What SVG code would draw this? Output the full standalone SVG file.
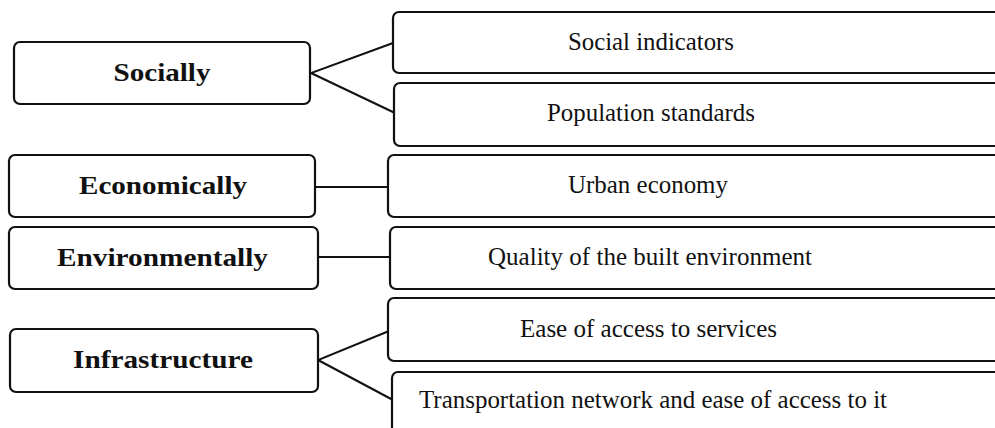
<svg xmlns="http://www.w3.org/2000/svg" width="995" height="428" viewBox="0 0 995 428">
<style>
.box{fill:#fff;stroke:#111;stroke-width:2.2}
.c{fill:none;stroke:#111;stroke-width:2}
text{font-family:'Liberation Serif','Times New Roman',serif;fill:#111;text-anchor:middle}
.l{font-weight:bold;font-size:25px}
.r{font-size:25px}
</style>
<rect width="995" height="428" fill="#fff"/>
<g id="connectors">
<polyline class="c" points="393,43 311,73 395,113"/>
<line class="c" x1="315" y1="187" x2="389" y2="187"/>
<line class="c" x1="318" y1="257" x2="391" y2="257"/>
<polyline class="c" points="389,331 318,360 393,400"/>
</g>
<g id="socially"><rect class="box" x="14" y="42" width="296" height="62" rx="6"/><text class="l" x="162" y="81" textLength="97" lengthAdjust="spacingAndGlyphs">Socially</text></g>
<g id="economically"><rect class="box" x="9" y="155" width="306" height="62" rx="6"/><text class="l" x="163" y="194" textLength="168" lengthAdjust="spacingAndGlyphs">Economically</text></g>
<g id="environmentally"><rect class="box" x="9" y="227" width="309" height="62" rx="6"/><text class="l" x="162.5" y="266" textLength="211" lengthAdjust="spacingAndGlyphs">Environmentally</text></g>
<g id="infrastructure"><rect class="box" x="10" y="329" width="308" height="63" rx="6"/><text class="l" x="163" y="368" textLength="180" lengthAdjust="spacingAndGlyphs">Infrastructure</text></g>
<g id="social-indicators"><rect class="box" x="393" y="12" width="620" height="61" rx="6"/><text class="r" x="651" y="50" textLength="166" lengthAdjust="spacingAndGlyphs">Social indicators</text></g>
<g id="population-standards"><rect class="box" x="394" y="83" width="620" height="63" rx="6"/><text class="r" x="651" y="121" textLength="208" lengthAdjust="spacingAndGlyphs">Population standards</text></g>
<g id="urban-economy"><rect class="box" x="388" y="155" width="620" height="62" rx="6"/><text class="r" x="648" y="193" textLength="160" lengthAdjust="spacingAndGlyphs">Urban economy</text></g>
<g id="quality"><rect class="box" x="390" y="227" width="620" height="62" rx="6"/><text class="r" x="650" y="265" textLength="324" lengthAdjust="spacingAndGlyphs">Quality of the built environment</text></g>
<g id="ease-of-access"><rect class="box" x="388" y="298" width="620" height="63" rx="6"/><text class="r" x="648.5" y="337" textLength="257" lengthAdjust="spacingAndGlyphs">Ease of access to services</text></g>
<g id="transportation"><rect class="box" x="392" y="372" width="620" height="80" rx="6"/><text class="r" x="653" y="408" textLength="468" lengthAdjust="spacingAndGlyphs">Transportation network and ease of access to it</text></g>
</svg>
